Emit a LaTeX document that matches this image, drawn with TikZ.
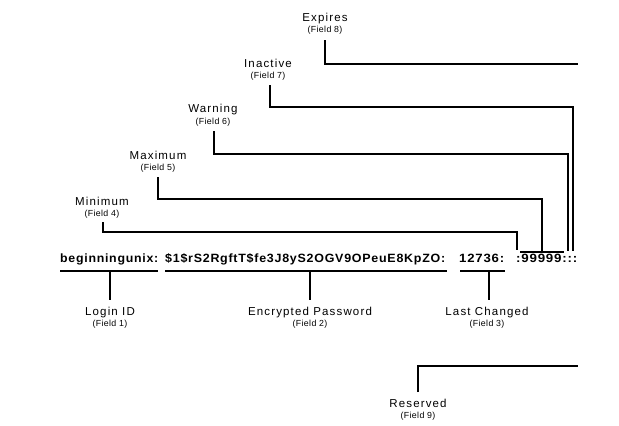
\documentclass[tikz,border=0pt]{standalone}
\usepackage{fontspec}
\usepackage{graphicx}
\newfontfamily\lblfont[LetterSpace=10]{Liberation Sans}
\newfontfamily\fldfont[LetterSpace=4]{Liberation Sans}
\newfontfamily\codefont[LetterSpace=6]{Liberation Sans}
\tikzset{
  conn/.style={line width=2pt},
  lbl/.style={inner sep=0pt, anchor=base, font=\lblfont\fontsize{11.5}{12}\selectfont},
  fld/.style={inner sep=0pt, anchor=base, font=\fldfont\fontsize{8.8}{9}\selectfont},
  code/.style={inner sep=0pt, anchor=base west, font=\codefont\bfseries\fontsize{12}{13}\selectfont},
}
\begin{document}
\begin{tikzpicture}[x=1pt,y=-1pt]
\useasboundingbox[fill=white] (0,0) rectangle (619,426);

% upper labels (base anchors)
\node[lbl] (expires) at (325,21) {Expires};
\node[fld] (f8) at (325,32) {(Field 8)};
\node[lbl] (inactive) at (268,67) {Inactive};
\node[fld] (f7) at (268,78) {(Field 7)};
\node[lbl] (warning) at (213,112) {Warning};
\node[fld] (f6) at (213,124) {(Field 6)};
\node[lbl] (maximum) at (158,159) {Maximum};
\node[fld] (f5) at (158,170) {(Field 5)};
\node[lbl] (minimum) at (102,205) {Minimum};
\node[fld] (f4) at (102,216) {(Field 4)};

% lower labels
\node[lbl] (login) at (110,315) {Login ID};
\node[fld] (f1) at (110,326) {(Field 1)};
\node[lbl] (passwd) at (310,315) {Encrypted Password};
\node[fld] (f2) at (310,326) {(Field 2)};
\node[lbl] (changed) at (487,315) {Last Changed};
\node[fld] (f3) at (487,326) {(Field 3)};
\node[lbl] (reserved) at (418,407) {Reserved};
\node[fld] (f9) at (418,418) {(Field 9)};

% the shadow line
\node[code] (t1) at (60,262) {\resizebox{98pt}{\height}{beginningunix:}};
\node[code] (t2) at (165,262) {\resizebox{280pt}{\height}{\$1\$rS2RgftT\$fe3J8yS2OGV9OPeuE8KpZO:}};
\node[code] (t3) at (459,262) {\resizebox{45pt}{\height}{12736:}};
\node[code] (t4) at (516,262) {\resizebox{61pt}{\height}{:99999:::}};

% coordinates
\coordinate (e8a) at (325,40);  \coordinate (e8b) at (578,64);
\coordinate (i7a) at (270,85);  \coordinate (i7c) at (573,107); \coordinate (i7b) at (573,251);
\coordinate (w6a) at (214,131); \coordinate (w6c) at (567.5,154); \coordinate (w6b) at (567.5,251);
\coordinate (m5a) at (158,177); \coordinate (m5c) at (541.5,199); \coordinate (m5b) at (541.5,251);
\coordinate (o5l) at (520,251.5); \coordinate (o5r) at (564,251.5);
\coordinate (n4a) at (103,222); \coordinate (n4c) at (517,232); \coordinate (n4b) at (517,250);
\coordinate (u1l) at (60,271);  \coordinate (u1r) at (158,271); \coordinate (u1m) at (110,271); \coordinate (u1e) at (110,300);
\coordinate (u2l) at (165,271); \coordinate (u2r) at (447,271); \coordinate (u2m) at (310,271); \coordinate (u2e) at (310,300);
\coordinate (u3l) at (460,271); \coordinate (u3r) at (505,271); \coordinate (u3m) at (489,271); \coordinate (u3e) at (489,300);
\coordinate (r9a) at (418,392); \coordinate (r9b) at (578,366);

% connectors
\draw[conn] (e8a) |- (e8b);
\draw[conn] (i7a) |- (i7c) -- (i7b);
\draw[conn] (w6a) |- (w6c) -- (w6b);
\draw[conn] (m5a) |- (m5c) -- (m5b);
\draw[conn] (o5l) -- (o5r);
\draw[conn] (n4a) |- (n4c) -- (n4b);
\draw[conn] (u1l) -- (u1r); \draw[conn] (u1m) -- (u1e);
\draw[conn] (u2l) -- (u2r); \draw[conn] (u2m) -- (u2e);
\draw[conn] (u3l) -- (u3r); \draw[conn] (u3m) -- (u3e);
\draw[conn] (r9a) |- (r9b);
\end{tikzpicture}
\end{document}
